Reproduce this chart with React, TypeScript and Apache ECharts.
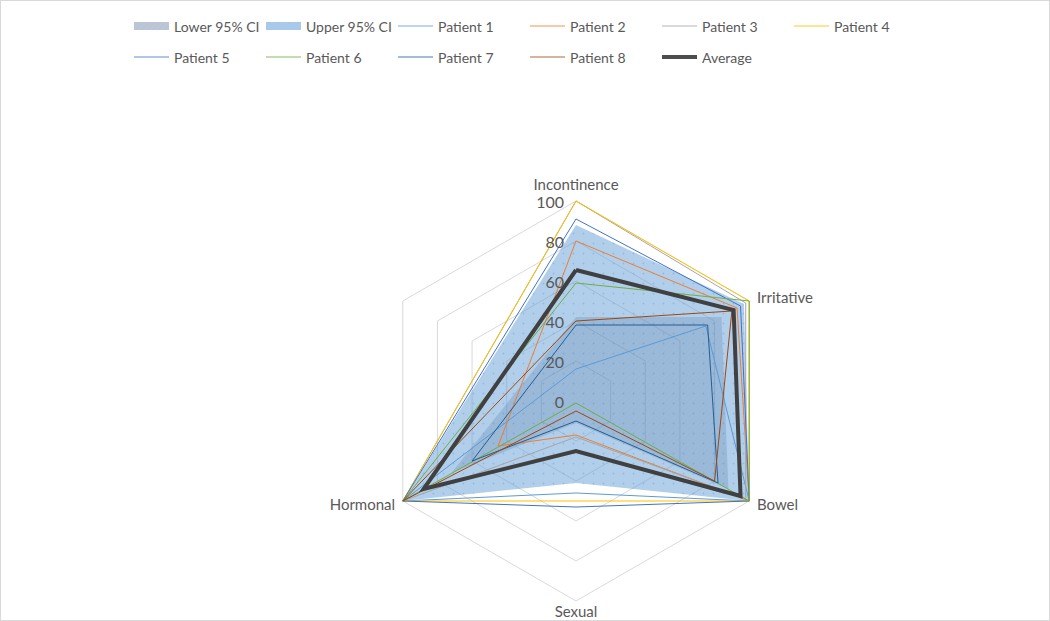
import React, { useEffect, useRef } from 'react';
import * as echarts from 'echarts';

// Radar categories (the sixth spoke of the grid has no label and no data)
const axes = ['Incontinence', 'Irritative', 'Bowel', 'Sexual', 'Hormonal'];
const blankAxis = '';
const axisMin = 0;
const axisMax = 100;
const axisStep = 20;

// Values per axis, in the order of `axes`
const lowerCI = [42, 84, 88, 11, 72];
const upperCI = [88, 97, 100, 41, 100];
const patient1 = [16, 75, 100, 46, 100];
const patient2 = [80, 93, 100, 17, 45];
const patient3 = [100, 98, 98, 18, 100];
const patient4 = [100, 100, 100, 50, 100];
const patient5 = [91, 95, 100, 53, 100];
const patient6 = [59, 100, 100, 1, 100];
const patient7 = [38, 76, 82, 10, 60];
const patient8 = [40, 90, 80, 5, 100];
const average = [65.5, 91, 95, 25, 88];

const ciNames = ['Lower 95% CI', 'Upper 95% CI'];
const patientNames = ['Patient 1', 'Patient 2', 'Patient 3', 'Patient 4', 'Patient 5', 'Patient 6', 'Patient 7', 'Patient 8'];
const averageName = 'Average';
const patientValues = [patient1, patient2, patient3, patient4, patient5, patient6, patient7, patient8];
const patientColors = ['#5B9BD5', '#ED7D31', '#A5A5A5', '#FFC000', '#4472C4', '#70AD47', '#255E91', '#9E480E'];

const FONT = 'Lato, "Open Sans", sans-serif';
const TEXT = '#595959';

export default function App() {
  const ref = useRef<HTMLDivElement>(null);

  useEffect(() => {
    document.body.style.margin = '0';
    if (!ref.current) return;
    const chart = echarts.init(ref.current, undefined, { renderer: 'svg' });

    // closed ring of [radius, angleCategory] pairs, skipping the blank spoke
    const ring = (vals: number[]) => [
      ...axes.map((a, i) => [vals[i], a]),
      [vals[0], axes[0]],
    ];

    const center = [575, 400];
    const radius = 200;
    const pxPerUnit = radius / (axisMax - axisMin);
    const dataMax = axisMax + 5; // headroom so strokes on the outer ring are not clipped

    const areaSeries = [
      {
        name: ciNames[1],
        vals: upperCI,
        color: 'rgba(91,155,213,0.48)',
        decal: { symbol: 'circle', symbolSize: 0.35, dashArrayX: 5, dashArrayY: 5, color: 'rgba(120,165,215,0.55)' },
      },
      {
        name: ciNames[0],
        vals: lowerCI,
        color: 'rgba(70,100,145,0.2)',
        decal: { symbol: 'rect', symbolSize: 0.5, dashArrayX: [2, 2], dashArrayY: [1, 1], rotation: 0.785, color: 'rgba(90,115,150,0.18)' },
      },
    ].map((s) => ({
      type: 'line',
      name: s.name,
      coordinateSystem: 'polar',
      polarIndex: 0,
      data: ring(s.vals),
      symbol: 'none',
      showSymbol: false,
      clip: false,
      silent: true,
      lineStyle: { width: 0, color: s.color },
      itemStyle: { color: s.color, decal: s.decal },
      areaStyle: { color: s.color, opacity: 1 },
      z: 2,
    }));

    const lineSeries = patientNames.map((n, i) => ({
      type: 'line',
      name: n,
      coordinateSystem: 'polar',
      polarIndex: 0,
      data: ring(patientValues[i]),
      symbol: 'none',
      showSymbol: false,
      clip: false,
      silent: true,
      lineStyle: { width: 1, color: patientColors[i] },
      itemStyle: { color: patientColors[i] },
      z: 3,
    }));

    const avgSeries = {
      type: 'line',
      name: averageName,
      coordinateSystem: 'polar',
      polarIndex: 0,
      data: ring(average),
      symbol: 'none',
      showSymbol: false,
      clip: false,
      silent: true,
      lineStyle: { width: 4, color: '#404040', join: 'miter' },
      itemStyle: { color: '#404040' },
      z: 4,
    };

    const lineIcon = 'path://M0,0H35V1.5H0Z';
    const legendData = [
      { name: ciNames[0], icon: 'path://M0,0H35V8H0Z', itemStyle: { color: '#BCC6D6', borderWidth: 0 } },
      { name: ciNames[1], icon: 'path://M0,0H35V8H0Z', itemStyle: { color: '#A9C9EA', borderWidth: 0 } },
      ...patientNames.map((n, i) => ({
        name: n,
        icon: lineIcon,
        itemStyle: { color: patientColors[i], borderWidth: 0, opacity: 0.55 },
      })),
      { name: averageName, icon: 'path://M0,0H35V4H0Z', itemStyle: { color: '#4D4D4D', borderWidth: 0 } },
    ];

    const legendRow = (top: number, data: any[]) => ({
      left: 133,
      top,
      padding: 0,
      orient: 'horizontal',
      itemWidth: 35,
      itemHeight: 14,
      itemGap: 2,
      selectedMode: false,
      formatter: (n: string) => `{n|${n}}`,
      textStyle: {
        fontSize: 14,
        color: TEXT,
        fontFamily: FONT,
        rich: { n: { width: 90, fontSize: 14, lineHeight: 16, color: TEXT, fontFamily: FONT } },
      },
      data,
    });

    const nameBase = { fontSize: 15, color: TEXT, fontFamily: FONT };
    const nameRich = {
      top: { ...nameBase, padding: [0, 0, 8, 0] },
      bottom: { ...nameBase },
      right: { ...nameBase, padding: [0, 0, 6, 6] },
      rightLow: { ...nameBase, padding: [4, 0, 0, 6] },
      left: { ...nameBase, padding: [4, 6, 0, 0] },
    };
    const nameStyleKey: Record<string, string> = {
      [axes[0]]: 'top',
      [axes[1]]: 'right',
      [axes[2]]: 'rightLow',
      [axes[3]]: 'bottom',
      [axes[4]]: 'left',
    };

    chart.setOption({
      animation: false,
      backgroundColor: '#ffffff',
      textStyle: { fontFamily: FONT },
      legend: [legendRow(18, legendData.slice(0, 6)), legendRow(49, legendData.slice(6))],
      radar: {
        center,
        radius,
        startAngle: 90,
        splitNumber: (axisMax - axisMin) / axisStep,
        shape: 'polygon',
        nameGap: 2,
        axisName: {
          color: TEXT,
          fontSize: 15,
          fontFamily: FONT,
          formatter: (n: string) => (n ? `{${nameStyleKey[n]}|${n}}` : ''),
          rich: nameRich,
        },
        axisLine: { show: false },
        axisTick: { show: false },
        axisLabel: { show: false },
        splitArea: { show: false },
        splitLine: { lineStyle: { color: '#D9D9D9', width: 1 } },
        // ECharts lays radar spokes out counter-clockwise
        indicator: [axes[0], blankAxis, axes[4], axes[3], axes[2], axes[1]].map((n) => ({
          name: n,
          min: axisMin,
          max: axisMax,
        })),
      },
      polar: [
        { center, radius: pxPerUnit * (dataMax - axisMin) },
        { center, radius },
      ],
      angleAxis: [
        {
          polarIndex: 0,
          type: 'category',
          data: [...axes, blankAxis],
          // categories sit at band centres: start half a band early so the first is at the top
          startAngle: 90 + 180 / (axes.length + 1),
          clockwise: true,
          boundaryGap: true,
          axisLine: { show: false },
          axisTick: { show: false },
          axisLabel: { show: false },
          splitLine: { show: false },
        },
        {
          polarIndex: 1,
          type: 'value',
          startAngle: 90,
          axisLine: { show: false },
          axisTick: { show: false },
          axisLabel: { show: false },
          splitLine: { show: false },
        },
      ],
      radiusAxis: [
        {
          polarIndex: 0,
          type: 'value',
          min: axisMin,
          max: dataMax,
          axisLine: { show: false },
          axisTick: { show: false },
          axisLabel: { show: false },
          splitLine: { show: false },
        },
        {
          polarIndex: 1,
          type: 'value',
          min: axisMin,
          max: axisMax,
          interval: axisStep,
          axisLine: { show: false },
          axisTick: { show: false },
          splitLine: { show: false },
          axisLabel: { color: TEXT, fontSize: 16, fontFamily: FONT, margin: 12 },
          z: 10,
        },
      ],
      series: [...areaSeries, ...lineSeries, avgSeries],
    });

    return () => chart.dispose();
  }, []);

  return (
    <div
      ref={ref}
      style={{
        width: 1050,
        height: 621,
        position: 'absolute',
        left: 0,
        top: 0,
        boxSizing: 'border-box',
        border: '1px solid #D9D9D9',
      }}
    />
  );
}
